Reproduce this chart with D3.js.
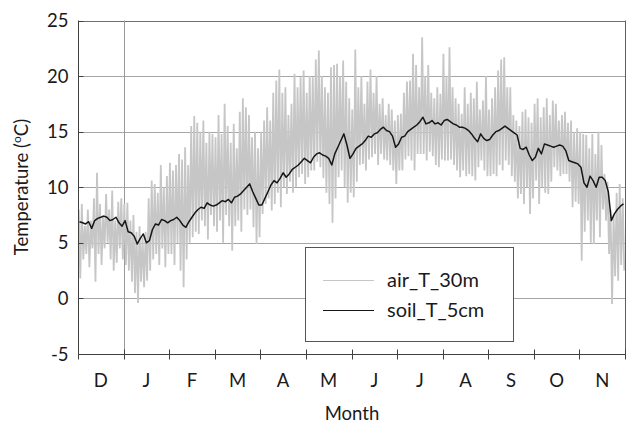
<!DOCTYPE html>
<html>
<head>
<meta charset="utf-8">
<script src="https://cdn.jsdelivr.net/npm/d3@7/dist/d3.min.js"></script>
<style>
  html, body { margin: 0; padding: 0; background: #fff; }
  svg { display: block; font-family: Lato, "Open Sans", sans-serif; }
</style>
</head>
<body>
<svg id="chart" width="626" height="423"></svg>
<script>
// Month labels, December through November
const months = ["D", "J", "F", "M", "A", "M", "J", "J", "A", "S", "O", "N"];
const yTicks = [-5, 0, 5, 10, 15, 20, 25];

// Air temperature at 30 m: alternating highs and lows, 15 pairs per month (°C)
const airHigh = [
  8, 8.5, 6.5, 8, 7, 9, 11.3, 8.5, 7.5, 9.4, 8, 9.7, 7, 8.7, 9,                 // Dec
  8.5, 8.6, 7, 7.5, 6, 6.5, 5.5, 6, 9, 10.6, 10.3, 9.5, 12, 10, 11,             // Jan
  12.2, 11.5, 12.0, 13.0, 12.5, 13.6, 12.0, 15.5, 16.4, 15.8, 15, 16.0, 14, 15, 14.8, // Feb
  14.5, 16.5, 14.8, 17.5, 15.5, 14, 15.7, 13.5, 16.8, 18.0, 17.2, 16.5, 14.5, 15, 13.5, // Mar
  15, 16, 17.2, 16, 18.5, 19.6, 20.6, 18.5, 19, 16.5, 17.5, 20.2, 19, 19.9, 20.5, // Apr
  18.5, 20, 19.9, 21.5, 22.3, 20, 19, 18.5, 20.8, 21, 21.1, 20, 21.4, 19.5, 18,  // May
  17, 22.4, 19, 20, 17.5, 19.5, 20.6, 18.5, 20, 17.5, 18, 16.5, 17.5, 17, 16,    // Jun
  16.5, 16.6, 18.5, 19.5, 19.6, 22, 21, 19, 23.5, 20, 21, 18.5, 18, 19, 18.4,    // Jul
  22, 20, 22.6, 19, 18, 17.5, 16.6, 19, 17.5, 18.5, 18, 19.5, 17, 17.8, 20,      // Aug
  17, 18, 19, 20.5, 21.5, 21.7, 19, 19, 16.5, 16, 15.5, 16.8, 17, 16.3, 15.8,    // Sep
  17.5, 18, 16.3, 17.2, 18, 16.5, 17.8, 17.5, 16, 16.5, 16.8, 15.8, 16, 15, 15.3, // Oct
  15, 14.8, 14.7, 13.5, 14.8, 13, 15, 13.8, 11.2, 10.5, 8, 7.5, 9.5, 10.3, 9      // Nov
];
const airLow = [
  1.8, 3.5, 4.0, 2.8, 4.5, 1.5, 4, 3, 4.5, 5, 3.5, 2.5, 3.2, 4.5, 3.5,          // Dec
  3, 2.5, 1.5, 0.5, -0.4, 1.5, 1.0, 1.6, 2.5, 3.5, 4, 3, 4.5, 2.8, 4,           // Jan
  4.0, 3, 5, 2.5, 1.0, 3.5, 5, 5.5, 6, 5.8, 7, 6.5, 5.3, 7.5, 6.5,              // Feb
  6, 7, 5, 7.5, 6.5, 4.3, 6.5, 7, 6, 8, 7.5, 8, 6.4, 4.9, 5.5,                  // Mar
  7.6, 8.5, 9, 7.9, 8.5, 9.5, 8.2, 10, 9.4, 10.5, 9.5, 10, 10.9, 11.2, 10.3,    // Apr
  10.9, 11.5, 11.5, 12.3, 11.8, 10.8, 9.5, 8.5, 6.8, 9, 10.9, 11.5, 10, 8.6, 9.5, // May
  9.1, 10.5, 12, 12.1, 11.5, 12.5, 12.7, 13, 12, 13, 12.5, 12.4, 12, 11.5, 10.3, // Jun
  11.5, 11.5, 12.5, 12.8, 12.4, 11.5, 13, 13, 13, 12.4, 13.2, 12.8, 12, 11.8, 12.5, // Jul
  12.4, 12.4, 12.5, 12, 11.5, 10.9, 11.5, 11, 11.2, 11, 10.6, 11.8, 12.4, 11.5, 11, // Aug
  11, 11.2, 11, 12, 11.5, 12.4, 12, 11, 10.5, 9, 9.4, 8.5, 10, 7.6, 9,          // Sep
  10.6, 8.5, 10, 9.5, 9.4, 10.5, 11.8, 11.5, 11, 11.2, 11.2, 10.5, 8.2, 8.7, 8.5, // Oct
  3.4, 6, 7, 5, 4.9, 7, 5.5, 8, 7, 4, -0.5, 2, 1.6, 3, 2.5                      // Nov
];

// Soil temperature at 5 cm, 15 samples per month (°C)
const soilT = [
  6.9, 6.8, 6.7, 6.9, 6.3, 7.0, 7.2, 7.3, 7.4, 7.3, 7.0, 7.1, 7.3, 6.8, 6.5,    // Dec
  7.0, 6.0, 5.9, 5.6, 4.9, 5.4, 5.8, 5.0, 5.2, 6.2, 6.7, 6.6, 7.1, 7.0, 6.8,    // Jan
  7.0, 7.1, 7.3, 7.0, 6.6, 6.4, 6.9, 7.3, 7.7, 8.0, 8.2, 8.1, 8.6, 8.4, 8.3,    // Feb
  8.4, 8.6, 8.8, 8.7, 8.9, 8.6, 9.1, 9.2, 9.4, 9.7, 10.0, 10.3, 9.6, 9.0, 8.4,  // Mar
  8.4, 9.0, 9.6, 10.2, 10.6, 10.4, 10.8, 11.3, 10.9, 11.2, 11.6, 11.8, 12.0, 12.3, 12.6, // Apr
  12.4, 12.2, 12.7, 13.0, 13.1, 12.9, 12.8, 12.6, 12.0, 13.0, 13.6, 14.2, 14.8, 13.8, 12.6, // May
  13.0, 13.5, 13.7, 13.9, 14.2, 14.6, 14.5, 14.8, 14.9, 15.2, 15.4, 15.1, 15.0, 14.6, 13.6, // Jun
  13.9, 14.5, 14.6, 15.0, 15.2, 15.4, 15.6, 15.9, 16.3, 15.7, 15.8, 16.0, 15.7, 15.8, 15.6, // Jul
  16.0, 16.1, 15.9, 15.7, 15.6, 15.4, 15.4, 15.3, 15.1, 14.8, 14.4, 14.1, 14.8, 14.4, 14.2, // Aug
  14.3, 14.7, 15.0, 15.1, 15.3, 15.5, 15.3, 15.1, 14.9, 14.7, 13.5, 13.4, 13.6, 12.9, 12.4, // Sep
  12.7, 13.5, 13.0, 13.9, 13.8, 13.7, 13.6, 13.7, 13.8, 13.7, 13.3, 12.4, 12.3, 12.2, 12.1, // Oct
  11.8, 10.4, 10.0, 11.0, 10.6, 10.0, 10.9, 10.9, 10.6, 9.6, 7.0, 7.6, 8.0, 8.3, 8.5        // Nov
];
const seriesNames = ["air_T_30m", "soil_T_5cm"];

const perMonth = 15;
const svg = d3.select("#chart");
const plotLeft = 78, plotRight = 625, plotTop = 20.5, plotBottom = 354;
const fontSize = 18.5;
const textColor = "#1a1a1a";

// x runs in month units: 0 = start of December, 12 = end of November
const x = d3.scaleLinear().domain([0, 12]).range([plotLeft, plotRight]);
const y = d3.scaleLinear().domain([-5, 25]).range([plotBottom, plotTop]);

const gridColor = "#a6a6a6";
const axisColor = "#404040";
const airColor = "#c6c6c6";
const soilColor = "#161616";

// Horizontal gridlines
svg.append("g").selectAll("line").data(yTicks.filter(v => v > -5)).join("line")
  .attr("x1", plotLeft).attr("x2", plotRight)
  .attr("y1", d => Math.round(y(d)) + 0.5).attr("y2", d => Math.round(y(d)) + 0.5)
  .attr("stroke", d => d === 25 ? "#707070" : gridColor).attr("stroke-width", 1);

// Year boundary at 1 January
svg.append("line")
  .attr("x1", Math.round(x(1)) + 0.5).attr("x2", Math.round(x(1)) + 0.5)
  .attr("y1", plotTop).attr("y2", plotBottom)
  .attr("stroke", "#999").attr("stroke-width", 1);

// Air temperature: zig-zag between each high and the following low
const airPts = [];
airHigh.forEach((hi, i) => {
  const m = Math.floor(i / perMonth), k = i % perMonth;
  airPts.push([m + (2 * k + 0.5) / (2 * perMonth), hi]);
  airPts.push([m + (2 * k + 1.5) / (2 * perMonth), airLow[i]]);
});
const line = d3.line().x(d => x(d[0])).y(d => y(d[1]));
svg.append("path").datum(airPts)
  .attr("d", line).attr("fill", "none")
  .attr("stroke", airColor).attr("stroke-width", 1.8).attr("stroke-linejoin", "miter");

// Soil temperature
const soilPts = soilT.map((v, i) => {
  const m = Math.floor(i / perMonth), k = i % perMonth;
  return [m + (k + 0.5) / perMonth, v];
});
svg.append("path").datum(soilPts)
  .attr("d", line).attr("fill", "none")
  .attr("stroke", soilColor).attr("stroke-width", 1.5).attr("stroke-linejoin", "round");

// Frame: right edge
svg.append("line")
  .attr("x1", plotRight + 0.5).attr("x2", plotRight + 0.5).attr("y1", plotTop).attr("y2", plotBottom)
  .attr("stroke", "#606060");

// Y axis
const yAxis = svg.append("g").attr("transform", `translate(${plotLeft + 0.5},0)`);
yAxis.append("line").attr("y1", plotTop).attr("y2", plotBottom).attr("stroke", axisColor);
yAxis.selectAll("line.tick").data(yTicks).join("line").attr("class", "tick")
  .attr("x1", 0).attr("x2", 5)
  .attr("y1", d => Math.round(y(d)) + 0.5).attr("y2", d => Math.round(y(d)) + 0.5)
  .attr("stroke", axisColor);
yAxis.selectAll("text").data(yTicks).join("text")
  .attr("x", -10).attr("y", d => y(d)).attr("dy", "0.36em")
  .attr("text-anchor", "end").attr("font-size", fontSize).attr("fill", textColor)
  .text(d => d);

// X axis
const xAxis = svg.append("g").attr("transform", `translate(0,${Math.round(plotBottom) + 0.5})`);
xAxis.append("line").attr("x1", plotLeft).attr("x2", plotRight + 1).attr("stroke", axisColor);
xAxis.selectAll("line.tick").data(d3.range(0, 13)).join("line").attr("class", "tick")
  .attr("x1", d => Math.round(x(d)) + 0.5).attr("x2", d => Math.round(x(d)) + 0.5)
  .attr("y1", -5).attr("y2", 5).attr("stroke", axisColor);
xAxis.selectAll("text").data(months).join("text")
  .attr("x", (d, i) => x(i + 0.5)).attr("y", 32)
  .attr("text-anchor", "middle").attr("font-size", fontSize).attr("fill", textColor)
  .text(d => d);

// Axis titles
svg.append("text").attr("x", 352).attr("y", 420)
  .attr("text-anchor", "middle").attr("font-size", fontSize).attr("fill", textColor)
  .text("Month");
const yTitle = svg.append("text")
  .attr("transform", "translate(28,187) rotate(-90)")
  .attr("text-anchor", "middle").attr("font-size", fontSize).attr("fill", textColor);
yTitle.append("tspan").text("Temperature (");
yTitle.append("tspan").attr("font-size", 12).attr("dy", -7).text("o");
yTitle.append("tspan").attr("dy", 7).text("C)");

// Legend
const legend = svg.append("g");
legend.append("rect")
  .attr("x", 305.5).attr("y", 247.5).attr("width", 208).attr("height", 94)
  .attr("fill", "#fff").attr("stroke", "#555");
const legendItems = [
  { name: seriesNames[0], color: airColor, y: 280 },
  { name: seriesNames[1], color: soilColor, y: 310 }
];
legendItems.forEach(it => {
  legend.append("line").attr("x1", 323).attr("x2", 374)
    .attr("y1", it.y + 0.5).attr("y2", it.y + 0.5)
    .attr("stroke", it.color).attr("stroke-width", 1.2);
  legend.append("text").attr("x", 387).attr("y", it.y).attr("dy", "0.36em")
    .attr("font-size", 20).attr("fill", textColor).text(it.name);
});
</script>
</body>
</html>
